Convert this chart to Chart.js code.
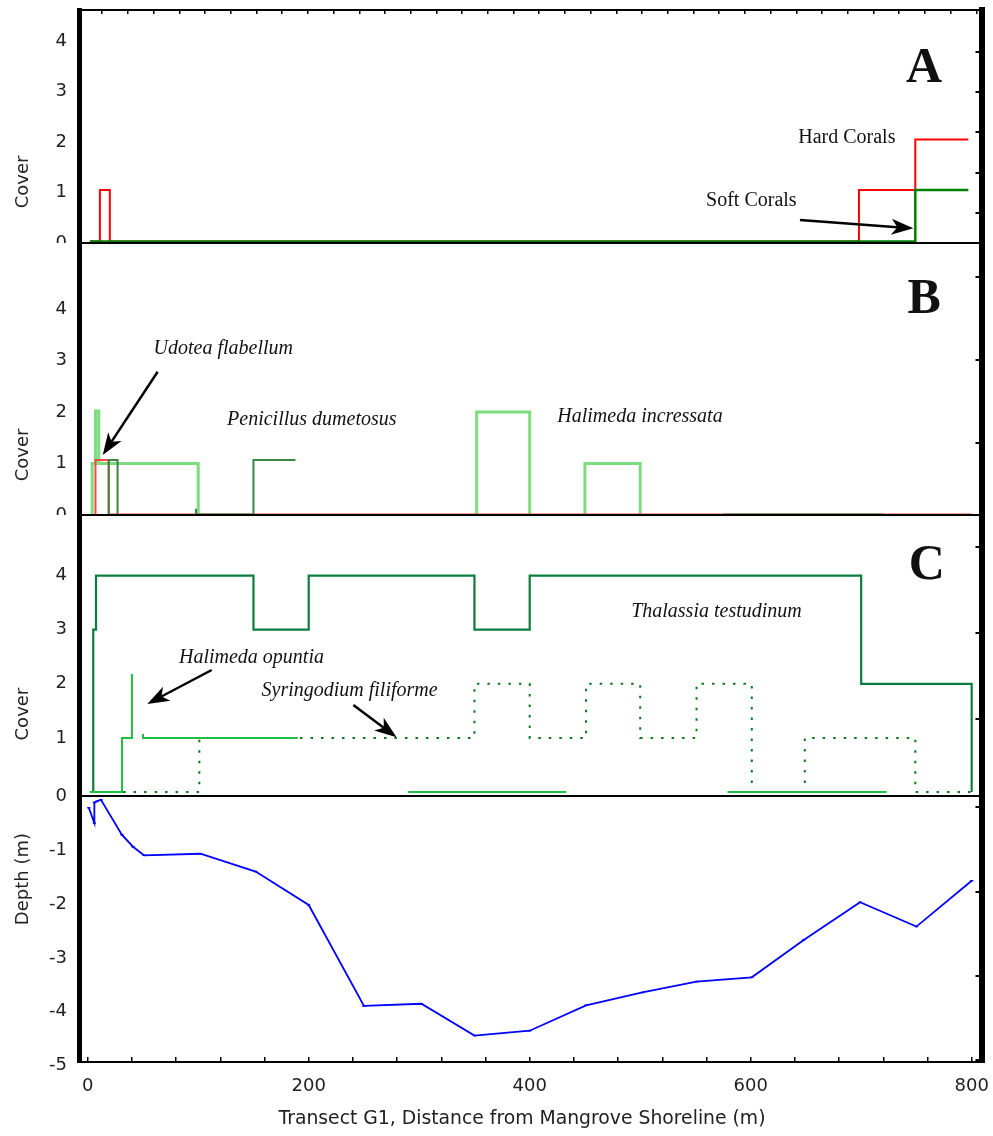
<!DOCTYPE html>
<html>
<head>
<meta charset="utf-8">
<title>Transect G1 cover and depth</title>
<script src="https://cdn.jsdelivr.net/npm/chart.js@4.4.1/dist/chart.umd.min.js"></script>
<style>
  html, body { margin: 0; padding: 0; background: #fff; }
  canvas { display: block; }
</style>
</head>
<body>
<canvas id="transect" width="993" height="1136"></canvas>
<script>
// ---------- Panel A: coral cover ----------
const hardCoralX = [2, 11, 11, 20, 20, 698, 698, 749, 749, 797];
const hardCoralY = [0.03, 0.03, 1.05, 1.05, 0.03, 0.03, 1.05, 1.05, 2.05, 2.05];
const softCoralX = [2, 749, 749, 797];
const softCoralY = [0.03, 0.03, 1.05, 1.05];

// ---------- Panel B: calcareous green algae ----------
const udoteaX = [7, 7, 19, 19, 800];
const udoteaY = [0, 1.07, 1.07, 0.01, 0.01];
const penicillusX = [19, 19, 27, 27, 98, 98, 98, 150, 150, 188, 188, 575, 720];
const penicillusY = [0.01, 1.07, 1.07, 0.01, null, 0.12, 0.01, 0.01, 1.07, 1.07, null, 0.01, 0.01];
const incrassataX = [0, 4, 4, 7, 7, 10, 10, 100, 100, 352, 352, 400, 400, 450, 450, 500, 500, 800];
const incrassataY = [-0.03, -0.03, 1, 1, 2.02, 2.02, 1, 1, -0.03, -0.03, 2, 2, -0.03, -0.03, 1, 1, -0.03, -0.03];

// ---------- Panel C: seagrasses and Halimeda opuntia ----------
const thalassiaX = [2, 5, 5, 7.5, 7.5, 150, 150, 200, 200, 350, 350, 400, 400, 700, 700, 800, 800];
const thalassiaY = [0, 0, 3, 3, 4, 4, 3, 3, 4, 4, 3, 3, 4, 4, 2, 2, 0];
const opuntiaX = [2, 31, 31, 40, 40, 40, 50, 50, 190, 190, 290, 433, 433, 579, 723];
const opuntiaY = [0, 0, 1, 1, 2.18, null, 1.07, 1, 1, null, 0, 0, null, 0, 0];
const syringodiumX = [32, 101, 101, 350, 350, 400, 400, 451, 451, 500, 500, 551, 551, 601, 601, 649, 649, 749, 749, 800];
const syringodiumY = [0, 0, 1, 1, 2, 2, 1, 1, 2, 2, 1, 1, 2, 2, 0, 0, 1, 1, 0, 0];

// ---------- Bottom panel: water depth ----------
const depthX = [1, 6, 6, 8, 12, 31, 41, 51, 102, 152, 200, 250, 302, 350, 400, 451, 502, 551, 601, 648, 699, 750, 800];
const depthY = [-0.22, -0.5, -0.12, -0.1, -0.07, -0.72, -0.94, -1.1, -1.07, -1.4, -2.02, -3.89, -3.85, -4.44, -4.35, -3.88, -3.64, -3.44, -3.36, -2.67, -1.97, -2.42, -1.57];

// ---------- tick labels ----------
const distanceLabels = [0, 200, 400, 600, 800];
const coverTicks = [0, 1, 2, 3, 4];
const depthTicks = [0, -1, -2, -3, -4, -5];

const pts = (xs, ys) => xs.map((x, i) => ({ x: x, y: ys[i] }));

const SANS = '"DejaVu Sans", "Liberation Sans", sans-serif';
const SERIF = '"Liberation Serif", "DejaVu Serif", serif';
Chart.defaults.font.family = SANS;

// text labels, arrows and panel letters, placed in data units of each panel
const notes = [
  { axis: 'yA', x: 757, y: 3.19, text: 'A', font: 'bold 50px ' + SERIF, base: 'alphabetic' },
  { axis: 'yB', x: 757, y: 3.92, text: 'B', font: 'bold 50px ' + SERIF, base: 'alphabetic' },
  { axis: 'yC', x: 759.5, y: 3.94, text: 'C', font: 'bold 50px ' + SERIF, base: 'alphabetic' },
  { axis: 'yA', x: 687, y: 2.09, text: 'Hard Corals', font: '20px ' + SERIF },
  { axis: 'yA', x: 600.6, y: 0.84, text: 'Soft Corals', font: '20px ' + SERIF },
  { axis: 'yB', x: 122.7, y: 3.22, text: 'Udotea flabellum', font: 'italic 20px ' + SERIF },
  { axis: 'yB', x: 202.8, y: 1.845, text: 'Penicillus dumetosus', font: 'italic 20px ' + SERIF },
  { axis: 'yB', x: 499.8, y: 1.91, text: 'Halimeda incressata', font: 'italic 20px ' + SERIF },
  { axis: 'yC', x: 569, y: 3.33, text: 'Thalassia testudinum', font: 'italic 20px ' + SERIF },
  { axis: 'yC', x: 148.2, y: 2.48, text: 'Halimeda opuntia', font: 'italic 20px ' + SERIF },
  { axis: 'yC', x: 237, y: 1.87, text: 'Syringodium filiforme', font: 'italic 20px ' + SERIF }
];
const arrows = [
  { axis: 'yA', from: [644.6, 0.456], to: [747.2, 0.291] },
  { axis: 'yB', from: [63.3, 2.78], to: [13.6, 1.165] },
  { axis: 'yC', from: [112.2, 2.255], to: [53.9, 1.627] },
  { axis: 'yC', from: [240.4, 1.608], to: [279.5, 1.011] }
];
const sideTitles = [
  { axis: 'yA', text: 'Cover', at: 1.21 },
  { axis: 'yB', text: 'Cover', at: 1.165 },
  { axis: 'yC', text: 'Cover', at: 1.44 },
  { axis: 'yD', text: 'Depth (m)', at: -1.54 }
];
const bottomTitle = { text: 'Transect G1, Distance from Mangrove Shoreline (m)', at: 393 };

function drawArrow(ctx, x1, y1, x2, y2) {
  const a = Math.atan2(y2 - y1, x2 - x1);
  const len = 22, half = 8, notch = 6;
  const c = Math.cos(a), s = Math.sin(a);
  ctx.beginPath();
  ctx.moveTo(x1, y1);
  ctx.lineTo(x2 - c * (len - notch), y2 - s * (len - notch));
  ctx.stroke();
  const bx = x2 - c * len, by = y2 - s * len;
  ctx.beginPath();
  ctx.moveTo(x2, y2);
  ctx.lineTo(bx + s * half, by - c * half);
  ctx.lineTo(x2 - c * (len - notch), y2 - s * (len - notch));
  ctx.lineTo(bx - s * half, by + c * half);
  ctx.closePath();
  ctx.fill();
}

const notesPlugin = {
  id: 'transectNotes',
  afterDraw(chart) {
    const ctx = chart.ctx;
    const xs = chart.scales.x;
    ctx.save();
    ctx.fillStyle = '#111';
    ctx.strokeStyle = '#000';
    ctx.textAlign = 'center';
    notes.forEach(n => {
      ctx.font = n.font;
      ctx.textBaseline = n.base || 'middle';
      ctx.fillText(n.text, xs.getPixelForValue(n.x), chart.scales[n.axis].getPixelForValue(n.y));
    });
    ctx.lineWidth = 2.5;
    ctx.fillStyle = '#000';
    arrows.forEach(a => {
      const ys = chart.scales[a.axis];
      drawArrow(ctx, xs.getPixelForValue(a.from[0]), ys.getPixelForValue(a.from[1]),
                xs.getPixelForValue(a.to[0]), ys.getPixelForValue(a.to[1]));
    });
    // axis titles
    ctx.fillStyle = '#222';
    ctx.font = '18px ' + SANS;
    ctx.textBaseline = 'middle';
    sideTitles.forEach(t => {
      const y = chart.scales[t.axis].getPixelForValue(t.at);
      ctx.save();
      ctx.translate(23, y);
      ctx.rotate(-Math.PI / 2);
      ctx.fillText(t.text, 0, 0);
      ctx.restore();
    });
    ctx.font = '18.8px ' + SANS;
    ctx.fillText(bottomTitle.text, xs.getPixelForValue(bottomTitle.at), xs.bottom - 17);
    ctx.restore();
  }
};

// tick labels of the upper panels are cut by the panel underneath
function clipTickLabels(scale) {
  if (scale.$clipped) return;
  scale.$clipped = true;
  const original = scale.drawLabels;
  scale.drawLabels = function (area) {
    const c = this.ctx;
    c.save();
    c.beginPath();
    c.rect(0, this.top, this.right + 1, this.bottom - this.top);
    c.clip();
    original.call(this, area);
    c.restore();
  };
}

// keep the plot frame fixed: no extra room reserved for overhanging labels
function noOverhang(s) {
  s.paddingLeft = 0; s.paddingRight = 0; s.paddingTop = 0; s.paddingBottom = 0;
}

const zeroLine = ctx => (ctx.tick && ctx.tick.value === 0) ? '#000' : 'rgba(0,0,0,0)';

function leftAxis(weight, order, min, max, ticks, opts) {
  opts = opts || {};
  return {
    type: 'linear', position: 'left', stack: 'left', stackWeight: weight, weight: order,
    min: min, max: max,
    afterBuildTicks: s => { s.ticks = ticks.map(v => ({ value: v })); },
    afterFit: s => { s.width = 79; noOverhang(s); },
    afterUpdate: opts.clip ? clipTickLabels : undefined,
    grid: { display: opts.grid !== false, drawTicks: false, lineWidth: 2, color: zeroLine, z: 1 },
    border: { display: true, width: 5, color: '#000', z: 1 },
    ticks: {
      padding: 12, color: '#222', autoSkip: false,
      font: { family: SANS, size: 18 },
      callback: opts.callback || (v => String(v))
    }
  };
}

function rightAxis(weight, order, min, max, ticks) {
  return {
    type: 'linear', position: 'right', stack: 'right', stackWeight: weight, weight: order,
    min: min, max: max,
    afterBuildTicks: s => { s.ticks = ticks.map(v => ({ value: v })); },
    afterFit: s => { s.width = 0; noOverhang(s); },
    ticks: { display: false },
    grid: { drawOnChartArea: false, drawTicks: true, tickLength: -6, lineWidth: 2, color: '#000', z: 1 },
    border: { display: true, width: 6, color: '#000', z: 1 }
  };
}

const line = (label, xs, ys, axis, color, width, order, extra) => Object.assign({
  label: label, data: pts(xs, ys), xAxisID: 'x', yAxisID: axis,
  borderColor: color, backgroundColor: color, borderWidth: width,
  pointRadius: 0, fill: false, tension: 0, spanGaps: false, order: order
}, extra || {});

new Chart(document.getElementById('transect'), {
  type: 'line',
  data: {
    datasets: [
      line('Soft Corals', softCoralX, softCoralY, 'yA', '#008000', 2.5, 1),
      line('Hard Corals', hardCoralX, hardCoralY, 'yA', '#ff0000', 2, 2),
      line('Penicillus dumetosus', penicillusX, penicillusY, 'yB', '#3b8544', 2, 3),
      line('Udotea flabellum', udoteaX, udoteaY, 'yB', '#ff4545', 2, 4),
      line('Halimeda incressata', incrassataX, incrassataY, 'yB', '#7ddc7d', 3, 5),
      line('Halimeda opuntia', opuntiaX, opuntiaY, 'yC', '#1fbf3f', 2, 6),
      line('Thalassia testudinum', thalassiaX, thalassiaY, 'yC', '#0b7e3e', 2.2, 7),
      line('Syringodium filiforme', syringodiumX, syringodiumY, 'yC', '#0a7a1a', 2, 8, { borderDash: [2.5, 8] }),
      line('Depth', depthX, depthY, 'yD', '#0000ff', 1.8, 9, {
        pointRadius: 1.6, pointStyle: 'line', pointBorderWidth: 1.5, pointBorderColor: '#0000ff'
      })
    ]
  },
  options: {
    responsive: false,
    animation: false,
    devicePixelRatio: 1,
    events: [],
    layout: { padding: { top: 10, right: 11.5, bottom: 0, left: 0 } },
    plugins: { legend: { display: false }, tooltip: { enabled: false } },
    scales: {
      x: {
        type: 'linear', position: 'bottom', min: -7.9, max: 808.9,
        afterBuildTicks: s => {
          const t = [];
          for (let v = 0; v <= 800; v += 40) t.push({ value: v });
          s.ticks = t;
        },
        afterFit: s => { s.height = 74; noOverhang(s); },
        grid: { drawOnChartArea: false, drawTicks: true, tickLength: -5, lineWidth: 1.5, color: '#000' },
        border: { display: true, width: 2, color: '#000', z: 1 },
        ticks: {
          autoSkip: false, maxRotation: 0, padding: 19, color: '#222',
          font: { family: SANS, size: 18 },
          callback: v => distanceLabels.includes(v) ? String(v) : ''
        }
      },
      xTop: {
        type: 'linear', position: 'top', min: -0.98, max: 6.04,
        afterBuildTicks: s => {
          const t = [];
          for (let k = -4; k <= 30; k++) t.push({ value: Math.round(k * 20) / 100 });
          s.ticks = t;
        },
        afterFit: s => { s.height = 0; noOverhang(s); },
        ticks: { display: false },
        grid: { drawOnChartArea: false, drawTicks: true, tickLength: -4, lineWidth: 1.5, color: '#000' },
        border: { display: true, width: 2, color: '#000', z: 1 }
      },
      yA: leftAxis(233, 4, 0, 4.62, coverTicks, { clip: true }),
      yB: leftAxis(272, 3, 0, 5.28, coverTicks, { clip: true }),
      yC: leftAxis(281, 2, -0.074, 5.12, coverTicks, { grid: false, callback: v => v === 0 ? '' : String(v) }),
      yD: leftAxis(266, 1, -4.93, 0, depthTicks),
      rA: rightAxis(233, 1, -0.74, 5.03, [0, 1, 2, 3, 4]),
      rB: rightAxis(272, 2, -0.86, 2.405, [0, 1, 2]),
      rC: rightAxis(281, 3, -0.895, 2.372, [0, 1, 2]),
      rD: rightAxis(266, 4, -0.02, 3.135, [0, 1, 2, 3])
    }
  },
  plugins: [notesPlugin]
});
</script>
</body>
</html>
